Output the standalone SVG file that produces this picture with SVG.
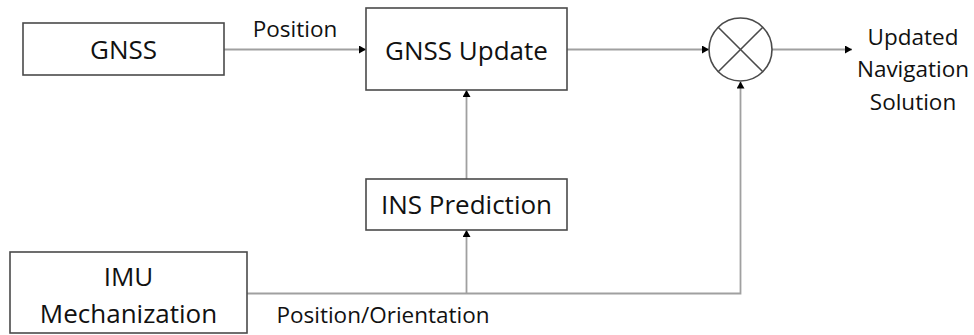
<svg xmlns="http://www.w3.org/2000/svg" width="974" height="335" viewBox="0 0 974 335">
<defs>
<marker id="arr" markerWidth="7" markerHeight="8" refX="7" refY="4" orient="auto" markerUnits="userSpaceOnUse">
<path d="M0,0 L7,4 L0,8 Z" fill="#000"/>
</marker>
<style>
.box{fill:#fff;stroke:#4a4a4a;stroke-width:1.6}
.t{font-family:"Open Sans","Liberation Sans",sans-serif;fill:#111;text-anchor:middle}
.big{font-size:26px}
.sm{font-size:22.5px}
.c{fill:none;stroke:#a0a0a0;stroke-width:1.8}
</style>
</defs>
<rect width="974" height="335" fill="#fff"/>
<g id="connectors">
<line class="c" x1="224" y1="49.5" x2="366" y2="49.5" marker-end="url(#arr)"/>
<line class="c" x1="567" y1="49.5" x2="709" y2="49.5" marker-end="url(#arr)"/>
<line class="c" x1="772" y1="49.5" x2="852" y2="49.5" marker-end="url(#arr)"/>
<line class="c" x1="466.5" y1="179" x2="466.5" y2="90" marker-end="url(#arr)"/>
<polyline class="c" points="247,293.5 740.5,293.5 740.5,81.5" marker-end="url(#arr)"/>
<line class="c" x1="466.5" y1="293.5" x2="466.5" y2="230" marker-end="url(#arr)"/>
<text class="t sm" x="295" y="37">Position</text>
<text class="t sm" x="383" y="323">Position/Orientation</text>
</g>
<g id="gnss">
<rect class="box" x="23" y="23" width="201" height="52"/>
<text class="t big" x="123.5" y="59">GNSS</text>
</g>
<g id="gnss-update">
<rect class="box" x="366" y="8" width="201" height="82"/>
<text class="t big" x="466.5" y="60">GNSS Update</text>
</g>
<g id="ins-prediction">
<rect class="box" x="366" y="179" width="201" height="51"/>
<text class="t big" x="466.5" y="214">INS Prediction</text>
</g>
<g id="imu">
<rect class="box" x="10" y="252" width="237" height="81"/>
<text class="t big" x="128.5" y="286">IMU</text>
<text class="t big" x="128.5" y="323">Mechanization</text>
</g>
<g id="multiplier">
<circle cx="740.5" cy="49.5" r="31.5" fill="#fff" stroke="#4a4a4a" stroke-width="1.6"/>
<line x1="718.2" y1="27.2" x2="762.8" y2="71.8" stroke="#4a4a4a" stroke-width="1.6"/>
<line x1="762.8" y1="27.2" x2="718.2" y2="71.8" stroke="#4a4a4a" stroke-width="1.6"/>
</g>
<g id="output">
<text class="t sm" x="913" y="45">Updated</text>
<text class="t sm" x="913" y="77">Navigation</text>
<text class="t sm" x="913" y="110">Solution</text>
</g>
</svg>
